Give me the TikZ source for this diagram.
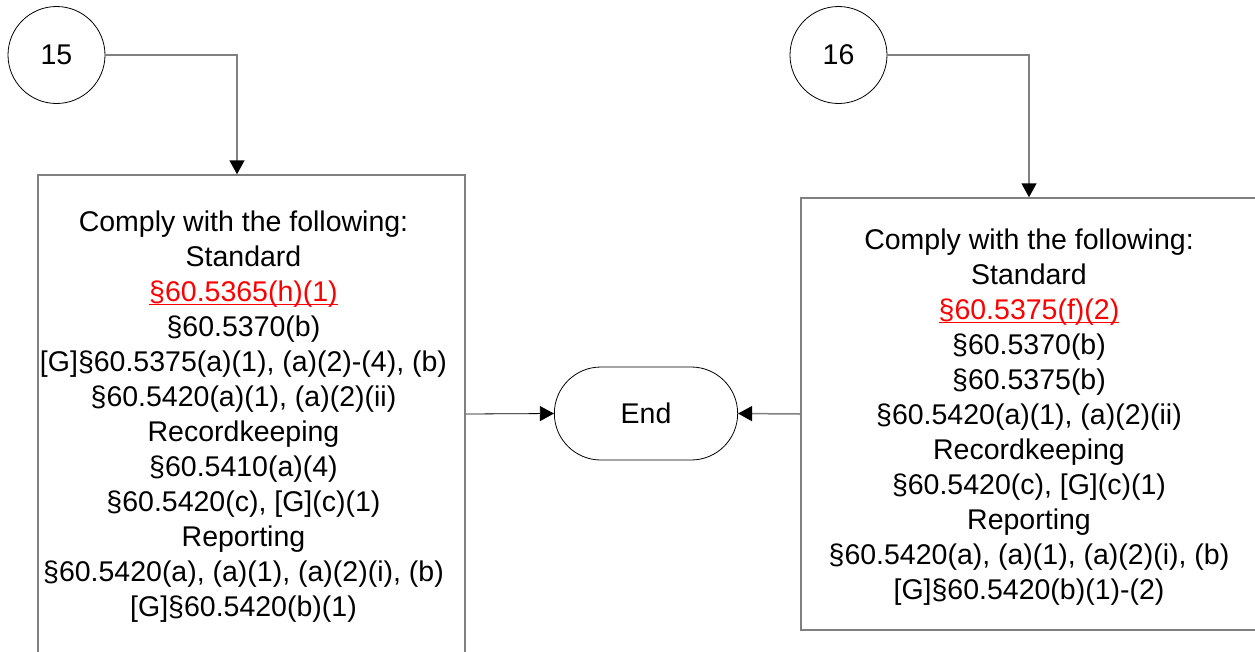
\documentclass[tikz,border=0pt]{standalone}
\usepackage{fontspec}
\setmainfont{Liberation Sans}
\usetikzlibrary{shapes.misc,arrows.meta}
\definecolor{linegray}{RGB}{128,128,128}
\newsavebox\ulbox
\newcommand{\redref}[1]{{\color{red}\sbox\ulbox{#1}\usebox\ulbox\llap{\rule[-3.5pt]{\wd\ulbox}{1.3pt}}}}

\begin{document}
\begin{tikzpicture}[x=1pt,y=-1pt,
    every node/.style={font=\fontsize{28.5}{35}\selectfont},
    conn/.style={draw=linegray,line width=1.5pt,-{Triangle[length=14pt,width=15pt,color=black,fill=black]}},
    stepbox/.style={draw=linegray,line width=1.5pt},
    ref/.style={rectangle,draw=black,line width=0.8pt}]

  \useasboundingbox (0,0) rectangle (1255,651);
  \clip (0,0) rectangle (1255,651);

  \node[ref,circle,minimum size=97] (c15) at (56.5,55) {15};
  \node[ref,circle,minimum size=97] (c16) at (838.5,55) {16};

  \node[stepbox,minimum width=427,minimum height=478] (sa) at (251.5,414) {};
  \node[align=center] (sa-text) at ([xshift=-8,yshift=-3]sa.center) {%
    Comply with the following:\\
    Standard\\
    \redref{§60.5365(h)(1)}\\
    §60.5370(b)\\
    {[G]}§60.5375(a)(1), (a)(2)-(4), (b)\\
    §60.5420(a)(1), (a)(2)(ii)\\
    Recordkeeping\\
    §60.5410(a)(4)\\
    §60.5420(c), [G](c)(1)\\
    Reporting\\
    §60.5420(a), (a)(1), (a)(2)(i), (b)\\
    {[G]}§60.5420(b)(1)};

  \node[stepbox,minimum width=456,minimum height=432] (sb) at (1029,414) {};
  \node[align=center] (sb-text) at ([yshift=-3]sb.center) {%
    Comply with the following:\\
    Standard\\
    \redref{§60.5375(f)(2)}\\
    §60.5370(b)\\
    §60.5375(b)\\
    §60.5420(a)(1), (a)(2)(ii)\\
    Recordkeeping\\
    §60.5420(c), [G](c)(1)\\
    Reporting\\
    §60.5420(a), (a)(1), (a)(2)(i), (b)\\
    {[G]}§60.5420(b)(1)-(2)};

  \node[ref,rounded rectangle,minimum width=190,minimum height=93] (end) at (646,413.5) {End};

  \draw[conn] (c15.east) -| ([xshift=-14.5]sa.north);
  \draw[conn] (c16.east) -| (sb.north);
  \draw[conn,draw=black,line width=0.8pt] (sa.east) -- (end.west);
  \draw[conn] (sb.west) -- (end.east);

\end{tikzpicture}
\end{document}
